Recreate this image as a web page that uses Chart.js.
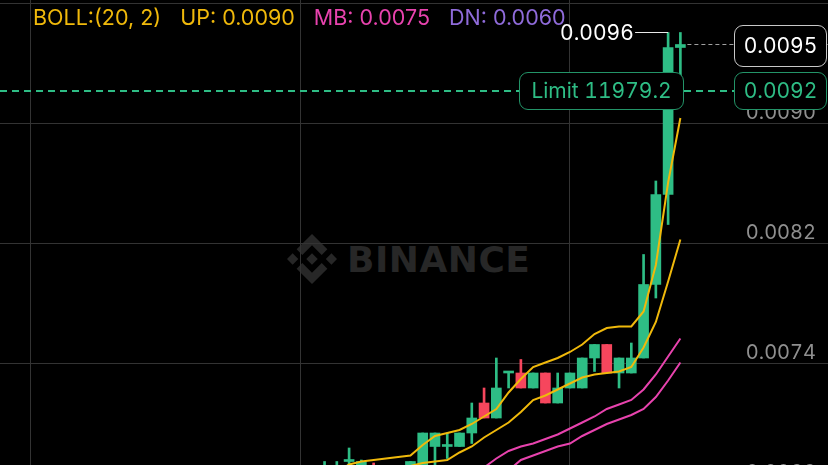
<!DOCTYPE html>
<html><head><meta charset="utf-8">
<script src="https://cdn.jsdelivr.net/npm/chart.js@4.4.1/dist/chart.umd.min.js"></script>
<style>
html,body{margin:0;padding:0;background:#000;width:828px;height:465px;overflow:hidden;font-family:Inter,"Open Sans",sans-serif;font-variant-numeric:tabular-nums;}
#wm{position:absolute;left:0;top:0;width:828px;height:465px;z-index:0;}
#wmLogo{position:absolute;left:287px;top:234px;width:50px;height:50px;}
#wmText{position:absolute;left:347px;top:242px;font:bold 36px "DejaVu Sans",sans-serif;line-height:36px;color:#272727;letter-spacing:0.5px;}
#wrap{position:absolute;left:0;top:-20px;width:828px;height:520px;z-index:1;}
#overlay{position:absolute;left:0;top:0;width:828px;height:465px;z-index:2;pointer-events:none;}
#header{position:absolute;left:33px;top:7px;display:flex;gap:19px;font-size:21.5px;line-height:21px;white-space:nowrap;font-variant-numeric:normal;}
.box{position:absolute;box-sizing:border-box;border-radius:9px;background:#000;font-size:21px;display:flex;align-items:center;justify-content:center;white-space:nowrap;}
#hiLbl{position:absolute;color:#fff;font-size:21px;line-height:21px;white-space:nowrap;}
</style></head>
<body>
<div id="wm">
  <svg id="wmLogo" viewBox="0 0 126.61 126.61"><g fill="#272727"><path d="M38.73 53.2l24.59-24.58 24.6 24.6 14.3-14.31L63.32 0 24.42 38.9l14.31 14.3zM0 63.31l14.3-14.31 14.31 14.31-14.31 14.3zM38.73 73.41l24.59 24.59 24.6-24.6 14.31 14.29-38.9 38.91-38.91-38.88-.02-.02 14.33-14.29zM98.28 63.31l14.3-14.31 14.31 14.3-14.31 14.32z"/><path d="M77.83 63.3L63.32 48.78 52.59 59.51l-1.24 1.23-2.54 2.54-.02.02.02.03 14.51 14.5 14.51-14.52.01-.01-.01-.01z"/></g></svg>
  <div id="wmText">BINANCE</div>
</div>
<div id="wrap"><canvas id="c"></canvas></div>
<div id="overlay">
  <div id="header"></div>
  <div id="hiLbl"></div>
  <div id="limL" class="box"></div>
  <div id="limR" class="box"></div>
  <div id="cur" class="box"></div>
</div>
<script>
// ---- data ----
const candleIndex = [2,3,4,5,6,7,8,9,10,11,12,13,14,15,16,17,18,19,20,21,22,23,24,25,26,27,28,29,30,31];
const opens  = [0.00662,0.00664,0.00675,0.00664,0.00670,null,null,0.00662,0.00668,0.00685,0.00685,0.00685,0.00694,0.00714,0.00704,0.00734,0.00734,0.00724,0.00734,0.00714,0.00724,0.00724,0.00744,0.00753,0.00734,0.00734,0.00744,0.00793,0.00853,0.00951];
const highs  = [0.00675,0.00675,0.00684,0.00676,0.00674,null,null,0.00675,0.00694,0.00694,0.00694,0.00694,0.00714,0.00724,0.00744,0.00734,0.00743,0.00734,0.00734,0.00734,0.00734,0.00744,0.00753,0.00753,0.00744,0.00754,0.00813,0.00862,0.00961,0.00961];
const lows   = [0.00658,0.00660,0.00664,0.00660,0.00655,null,null,0.00658,0.00662,0.00670,0.00677,0.00685,0.00687,0.00704,0.00704,0.00724,0.00724,0.00724,0.00714,0.00714,0.00724,0.00724,0.00735,0.00734,0.00724,0.00734,0.00744,0.00784,0.00833,0.00930];
const closes = [0.00668,0.00670,0.00675,0.00675,0.00660,null,null,0.00675,0.00694,0.00694,0.00685,0.00694,0.00704,0.00704,0.00724,0.00734,0.00724,0.00734,0.00714,0.00724,0.00734,0.00744,0.00753,0.00734,0.00744,0.00744,0.00793,0.00853,0.00951,0.00953];
const yellowUpper = [null,0.00668,0.00673,0.00675,0.00676,0.00677,0.00678,0.00679,0.00686,0.00692,0.00694,0.00696,0.00700,0.00705,0.00710,0.00721,0.00730,0.00738,0.00741,0.00744,0.00748,0.00753,0.00760,0.00764,0.00765,0.00765,0.00775,0.00806,0.00861,0.00904];
const yellowLower = [null,null,null,null,null,null,0.00668,0.00672,0.00674,0.00675,0.00676,0.00681,0.00685,0.00691,0.00696,0.00701,0.00708,0.00716,0.00719,0.00723,0.00727,0.00731,0.00733,0.00734,0.00735,0.00738,0.00751,0.00768,0.00795,0.00823];
const pinkUpper = [null,null,null,null,null,null,null,null,null,null,null,null,0.00664,0.00671,0.00677,0.00682,0.00685,0.00687,0.00690,0.00693,0.00697,0.00701,0.00705,0.00710,0.00713,0.00716,0.00723,0.00733,0.00745,0.00757];
const pinkLower = [null,null,null,null,null,null,null,null,null,null,null,null,null,null,0.00664,0.00669,0.00676,0.00679,0.00682,0.00685,0.00687,0.00692,0.00696,0.00700,0.00703,0.00706,0.00710,0.00718,0.00729,0.00741];
const yTicks = [0.0066,0.0074,0.0082,0.0090,0.0098];
const xGridTicks = [-22,0,22];
const yRange = [0.0064933,0.00996];
const xRange = [-24.45,43.03];
const headerLabels = ['BOLL:(20, 2)','UP: 0.0090','MB: 0.0075','DN: 0.0060'];
const headerColors = ['#F0B90B','#F0B90B','#E843AE','#8F6BDA'];
const lastPrice = 0.00953, lastPriceText = '0.0095';
const limitPrice = 0.00922, limitPriceText = '0.0092', limitText = 'Limit 11979.2';
const highText = '0.0096';

const GREEN = '#2EBD85', RED = '#F6465D';

const hd = document.getElementById('header');
headerLabels.forEach((t,i)=>{const s=document.createElement('span');s.textContent=t;s.style.color=headerColors[i];hd.appendChild(s);});

const valid = candleIndex.map((x,k)=>k).filter(k=>opens[k]!=null);
const wickData = valid.map(k=>({x:candleIndex[k], y:[lows[k], highs[k]]}));
const bodyData = valid.map(k=>({x:candleIndex[k], y:[opens[k], closes[k]]}));
const colors = valid.map(k=> closes[k] >= opens[k] ? GREEN : RED);
const lineData = arr => candleIndex.map((x,k)=>({x, y: arr[k]}));

const noPad = s => { s.paddingTop = 0; s.paddingBottom = 0; s.paddingLeft = 0; s.paddingRight = 0; };

const overlayPlugin = {
  id:'overlay',
  afterDraw(chart){
    const ctx = chart.ctx, xs = chart.scales.x, ys = chart.scales.y;
    const off = document.getElementById('wrap').offsetTop;
    const W = chart.width;
    const lastK = candleIndex.length-1;
    const xLast = xs.getPixelForValue(candleIndex[lastK]);
    const yl = ys.getPixelForValue(limitPrice);
    ctx.save();
    ctx.strokeStyle = GREEN; ctx.lineWidth = 2; ctx.setLineDash([7,5]);
    ctx.beginPath(); ctx.moveTo(0,yl); ctx.lineTo(W,yl); ctx.stroke();
    const yc = ys.getPixelForValue(lastPrice);
    ctx.strokeStyle = '#a0a0a0'; ctx.lineWidth = 1; ctx.setLineDash([4,3]);
    ctx.beginPath(); ctx.moveTo(xLast+7,Math.round(yc)+0.5); ctx.lineTo(W,Math.round(yc)+0.5); ctx.stroke();
    let hk = 0; highs.forEach((h,k)=>{ if(h!=null && h>highs[hk]) hk=k; });
    const xh = xs.getPixelForValue(candleIndex[hk]), yh = ys.getPixelForValue(highs[hk]);
    ctx.setLineDash([]); ctx.strokeStyle='#e8e8e8'; ctx.lineWidth=1;
    ctx.beginPath(); ctx.moveTo(xh, Math.round(yh)+0.5); ctx.lineTo(xh-33, Math.round(yh)+0.5); ctx.stroke();
    ctx.restore();
    const hi = document.getElementById('hiLbl');
    hi.textContent = highText;
    hi.style.left = (xh-34 - hi.offsetWidth) + 'px';
    hi.style.top = (yh + off - 10.5) + 'px';
    const cur = document.getElementById('cur');
    cur.textContent = lastPriceText;
    Object.assign(cur.style,{width:'93px',height:'42px',left:(W-94)+'px',top:(yc+off-19.5)+'px',border:'1.5px solid #c8c8c8',color:'#fff'});
    const lr = document.getElementById('limR');
    lr.textContent = limitPriceText;
    Object.assign(lr.style,{width:'93px',height:'38px',left:(W-94)+'px',top:(yl+off-19)+'px',border:'1.5px solid #239468',color:GREEN});
    const ll = document.getElementById('limL');
    ll.textContent = limitText;
    Object.assign(ll.style,{height:'38px',padding:'0 11px',top:(yl+off-19)+'px',border:'1.5px solid #239468',color:GREEN});
    ll.style.left = (xLast + 3 - ll.offsetWidth) + 'px';
  }
};

new Chart(document.getElementById('c'), {
  data: {
    datasets: [
      {type:'line', data: lineData(yellowUpper), borderColor:'#F0B90B', borderWidth:2, pointRadius:0, order:0, spanGaps:false},
      {type:'line', data: lineData(yellowLower), borderColor:'#F0B90B', borderWidth:2, pointRadius:0, order:0, spanGaps:false},
      {type:'line', data: lineData(pinkUpper), borderColor:'#E843AE', borderWidth:2, pointRadius:0, order:0, spanGaps:false},
      {type:'line', data: lineData(pinkLower), borderColor:'#E843AE', borderWidth:2, pointRadius:0, order:0, spanGaps:false},
      {type:'bar', data: bodyData, backgroundColor: colors, barThickness:10, minBarLength:2, grouped:false, order:1, borderWidth:0},
      {type:'bar', data: wickData, backgroundColor: colors, barThickness:2, grouped:false, order:2, borderWidth:0}
    ]
  },
  options: {
    responsive:true, maintainAspectRatio:false, animation:false,
    layout:{padding:0},
    plugins:{legend:{display:false}, tooltip:{enabled:false}},
    scales:{
      x:{type:'linear', min:xRange[0], max:xRange[1], offset:false,
         afterBuildTicks: s => { s.ticks = xGridTicks.map(v=>({value:v})); },
         afterFit: s => { noPad(s); s.height = 0; },
         grid:{color:'#333333', drawTicks:false, lineWidth:1, offset:false}, border:{display:false},
         ticks:{display:false}},
      y:{type:'linear', position:'right', min:yRange[0], max:yRange[1],
         afterBuildTicks: s => { s.ticks = yTicks.map(v=>({value:v})); },
         afterFit: s => { noPad(s); s.width = 0; },
         grid:{color:'#333333', drawTicks:false, lineWidth:1}, border:{display:false},
         ticks:{mirror:true, padding:-12, labelOffset:-11, color:'#8f8f8f', font:{family:'Inter', size:20}, callback:v=>Number(v).toFixed(4)}}
    }
  },
  plugins:[overlayPlugin]
});
</script>
</body></html>
